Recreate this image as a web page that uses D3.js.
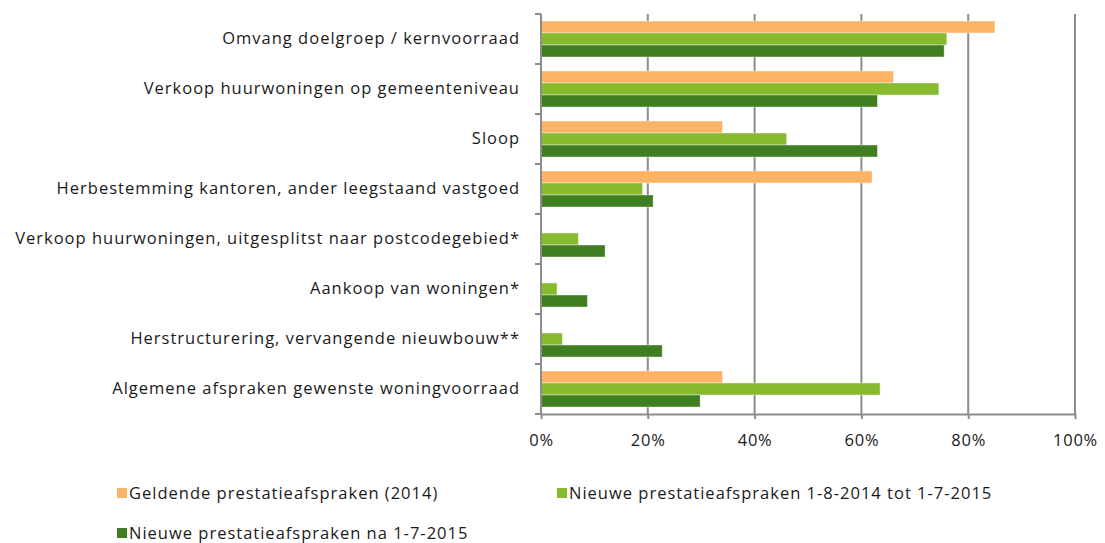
<!DOCTYPE html>
<html>
<head>
<meta charset="utf-8">
<script src="https://cdn.jsdelivr.net/npm/d3@7"></script>
<style>
  body { margin: 0; background: #fff; }
  text { font-family: "Open Sans", "Noto Sans", sans-serif; fill: #1a1a1a; }
</style>
</head>
<body>
<div id="chart"></div>
<script>
const categories = [
  "Omvang doelgroep / kernvoorraad",
  "Verkoop huurwoningen op gemeenteniveau",
  "Sloop",
  "Herbestemming kantoren, ander leegstaand vastgoed",
  "Verkoop huurwoningen, uitgesplitst naar postcodegebied*",
  "Aankoop van woningen*",
  "Herstructurering, vervangende nieuwbouw**",
  "Algemene afspraken gewenste woningvoorraad"
]
const seriesNames = [
  "Geldende prestatieafspraken (2014)",
  "Nieuwe prestatieafspraken 1-8-2014 tot 1-7-2015",
  "Nieuwe prestatieafspraken na 1-7-2015"
]
// null = no bar
const geldend2014 = [85, 66, 34, 62, null, null, null, 34]
const nieuw2014_2015 = [76, 74.5, 46, 19, 7, 3, 4, 63.5]
const nieuwNa2015 = [75.5, 63, 63, 21, 12, 8.7, 22.7, 29.8]
const xTicks = [0, 20, 40, 60, 80, 100]
const colors = ["#fdb366", "#86ba2f", "#3f7f22"]

const margin = {top: 14, right: 30, bottom: 129, left: 541},
    width = 1075 - margin.left,
    height = 414 - margin.top;

const svg = d3.select("#chart")
  .append("svg")
    .attr("width", 1105)
    .attr("height", 543)

const g = svg.append("g")
    .attr("transform", `translate(${margin.left},${margin.top})`)

const x = d3.scaleLinear().domain([0, 100]).range([0, width])
const y = d3.scaleBand().domain(categories).range([0, height]).paddingInner(0.28).paddingOuter(0.14)
const sub = d3.scaleBand().domain([0, 1, 2]).range([0, y.bandwidth()])

// gridlines
g.append("g")
  .selectAll("line")
  .data(xTicks.slice(1))
  .join("line")
    .attr("x1", d => x(d)).attr("x2", d => x(d))
    .attr("y1", 0).attr("y2", height)
    .attr("stroke", "#8c8c8c")
    .attr("stroke-width", 2)

// bars
const rows = categories.map((c, i) => ({cat: c, vals: [geldend2014[i], nieuw2014_2015[i], nieuwNa2015[i]]}))
g.append("g")
  .selectAll("g")
  .data(rows)
  .join("g")
    .attr("transform", d => `translate(0,${y(d.cat)})`)
  .selectAll("rect")
  .data(d => d.vals.map((v, k) => ({v, k})).filter(e => e.v !== null))
  .join("rect")
    .attr("x", 0)
    .attr("y", d => sub(d.k))
    .attr("width", d => x(d.v))
    .attr("height", sub.bandwidth())
    .attr("fill", d => colors[d.k])
    .attr("stroke", "#ffffff")
    .attr("stroke-opacity", 0.5)
    .attr("stroke-width", 0.8)

// bottom axis
const xAxis = g.append("g")
  .attr("transform", `translate(0,${height})`)
  .call(d3.axisBottom(x).tickValues(xTicks).tickFormat(d => d + "%").tickSizeInner(5).tickSizeOuter(0).tickPadding(15))
xAxis.select(".domain").attr("stroke", "#8c8c8c").attr("stroke-width", 2)
xAxis.selectAll(".tick line").attr("stroke", "#8c8c8c").attr("stroke-width", 2)
xAxis.selectAll("text").style("font-size", "16.5px").style("letter-spacing", "0.8px").attr("fill", "#1a1a1a")

// left axis with ticks between categories
const yAxis = g.append("g")
  .call(d3.axisLeft(y).tickSize(0).tickPadding(21))
yAxis.select(".domain").attr("stroke", "#8c8c8c").attr("stroke-width", 2).attr("d", `M0,0V${height}`)
yAxis.selectAll("text").style("font-size", "16.5px").style("letter-spacing", "1px").attr("fill", "#1a1a1a")

const step = y.step()
g.append("g")
  .selectAll("line")
  .data(d3.range(categories.length + 1))
  .join("line")
    .attr("x1", -6).attr("x2", 0)
    .attr("y1", i => i * step).attr("y2", i => i * step)
    .attr("stroke", "#8c8c8c")
    .attr("stroke-width", 2)

// legend
const legendPos = [[117, 493], [557, 493], [117, 533]]
const legend = svg.append("g")
  .selectAll("g")
  .data(seriesNames)
  .join("g")
    .attr("transform", (d, i) => `translate(${legendPos[i][0]},${legendPos[i][1]})`)
legend.append("rect")
  .attr("x", 0).attr("y", -5)
  .attr("width", 10).attr("height", 10)
  .attr("fill", (d, i) => colors[i])
legend.append("text")
  .attr("x", 12)
  .attr("dy", "0.35em")
  .style("font-size", "16.5px")
  .style("letter-spacing", "1px")
  .text(d => d)
</script>
</body>
</html>
